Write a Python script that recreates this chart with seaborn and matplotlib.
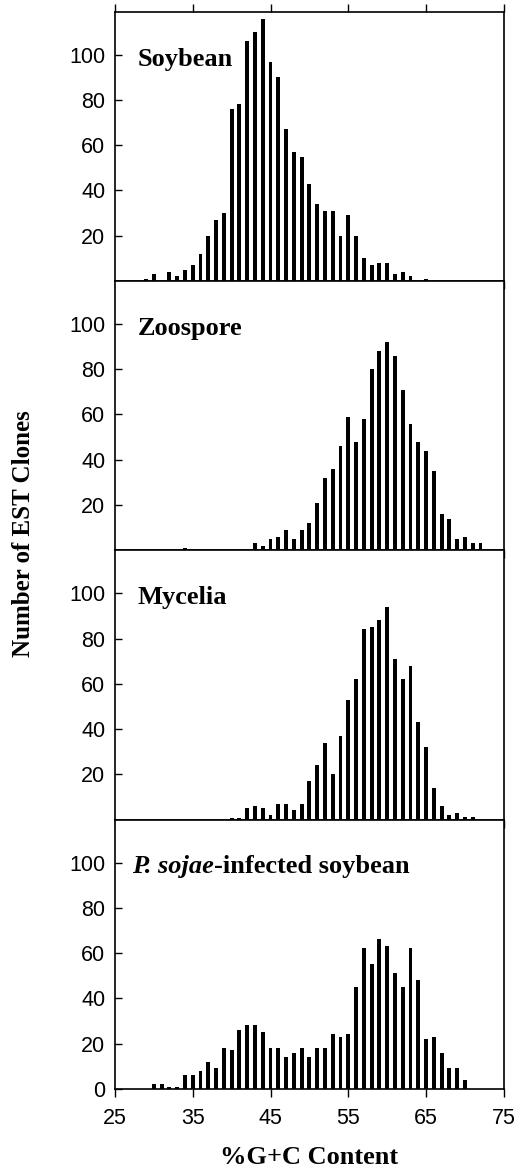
import numpy as np
import pandas as pd
import matplotlib
matplotlib.use("Agg")
import matplotlib.pyplot as plt
import seaborn as sns

# %G+C content bins and EST clone counts
soy_x = [29, 30, 32, 33, 34, 35, 36, 37, 38, 39, 40, 41, 42, 43, 44, 45, 46, 47,
         48, 49, 50, 51, 52, 53, 54, 55, 56, 57, 58, 59, 60, 61, 62, 63, 65]
soy_n = [1, 3, 4, 2, 5, 7, 12, 20, 27, 30, 76, 78, 106, 110, 116, 97, 90, 67,
         57, 55, 43, 34, 31, 31, 20, 29, 20, 10, 7, 8, 8, 3, 4, 2, 1]

zoo_x = [34] + list(range(43, 73))
zoo_n = [1, 3, 2, 5, 6, 9, 5, 9, 12, 21, 32, 36, 46, 59, 48, 58, 80, 88, 92,
         86, 71, 56, 48, 44, 35, 16, 14, 5, 6, 3, 3]

myc_x = list(range(40, 72))
myc_n = [0.5, 0.5, 5, 6, 5, 2, 7, 7, 4, 7, 17, 24, 34, 20, 37, 53, 62, 84, 85,
         88, 94, 71, 62, 68, 43, 32, 14, 6, 2, 3, 1, 1]

inf_x = list(range(30, 71))
inf_n = [2, 2, 1, 1, 6, 6, 8, 12, 9, 18, 17, 26, 28, 28, 25, 18, 18, 14, 16,
         18, 14, 18, 18, 24, 23, 24, 45, 62, 55, 66, 63, 51, 45, 62, 48, 22,
         23, 16, 9, 9, 4]

panels = ["Soybean", "Zoospore", "Mycelia", "P. sojae-infected soybean"]
xs = [soy_x, zoo_x, myc_x, inf_x]
ns = [soy_n, zoo_n, myc_n, inf_n]

sns.set_style("ticks")
plt.rcParams['font.family'] = ['Liberation Sans', 'DejaVu Sans']
plt.rcParams.update({'text.color': 'black', 'axes.labelcolor': 'black',
                     'xtick.color': 'black', 'ytick.color': 'black',
                     'axes.edgecolor': 'black'})
serif = ['Liberation Serif', 'DejaVu Serif']

fig, axes = plt.subplots(4, 1, figsize=(5.2, 11.72), dpi=100, sharex=True)
fig.subplots_adjust(left=0.221, right=0.969, top=0.99, bottom=0.071, hspace=0)

for i, ax in enumerate(axes):
    df = pd.DataFrame({'gc': xs[i], 'n': ns[i]})
    sns.barplot(data=df, x='gc', y='n', native_scale=True, width=0.5,
                color='black', saturation=1, linewidth=0, errorbar=None, ax=ax)
    ax.set_xlim(25, 75)
    ax.set_ylim(0, 119)
    ax.set_xlabel('')
    ax.set_ylabel('')
    ax.set_xticks([25, 35, 45, 55, 65, 75])
    if i < 3:
        ax.set_yticks([20, 40, 60, 80, 100])
    else:
        ax.set_yticks([0, 20, 40, 60, 80, 100])
    ax.tick_params(axis='y', direction='in', length=5, width=1, labelsize=15.5, pad=7)
    ax.tick_params(axis='x', direction='out', length=6, width=1, labelsize=15.5, pad=8,
                   top=(i == 0))
    for s in ax.spines.values():
        s.set_linewidth(1.2)
        s.set_color('black')

    if i < 3:
        ax.text(0.058, 0.80, panels[i], transform=ax.transAxes, ha='left',
                va='baseline', fontsize=19, fontweight='bold', family=serif)
    else:
        t1 = ax.text(0.044, 0.80, 'P. sojae', transform=ax.transAxes, ha='left',
                     va='baseline', fontsize=19, fontweight='bold', style='italic',
                     family=serif)
        ax.annotate('-infected soybean', xy=(1, 0), xycoords=t1, ha='left',
                    va='bottom', fontsize=19, fontweight='bold', family=serif)

axes[-1].set_xlabel('%G+C Content', fontsize=19, fontweight='bold', family=serif,
                    labelpad=12)
fig.text(0.046, 0.545, 'Number of EST Clones', rotation=90, ha='center', va='center',
         fontsize=18, fontweight='bold', family=serif)

fig.savefig('out.png', dpi=100)
